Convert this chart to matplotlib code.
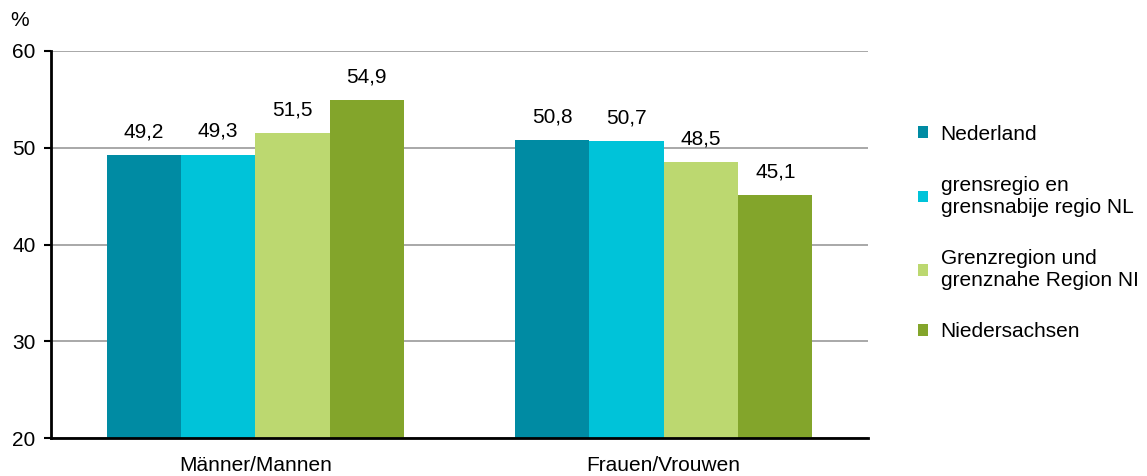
import matplotlib
matplotlib.use("Agg")
import matplotlib.pyplot as plt
import numpy as np

categories = ["Männer/Mannen", "Frauen/Vrouwen"]
series = ["Nederland", "grensregio en\ngrensnabije regio NL",
          "Grenzregion und\ngrenznahe Region NI", "Niedersachsen"]
values = [
    [49.2, 50.8],
    [49.3, 50.7],
    [51.5, 48.5],
    [54.9, 45.1],
]
colors = ["#008BA3", "#00C3D9", "#BCD870", "#83A52B"]
yticks = [20, 30, 40, 50, 60]

plt.rcParams['font.family'] = ['Liberation Sans', 'DejaVu Sans']
FS = 15
fig = plt.figure(figsize=(11.47, 4.76), dpi=100)
ax = fig.add_axes([51/1147, 1-438/476, (868-51)/1147, (438-51)/476])

x = np.arange(len(categories))
bw = 0.182
n = len(series)
for i, (s, vals, c) in enumerate(zip(series, values, colors)):
    pos = x + (i - (n-1)/2) * bw
    ax.bar(pos, vals, width=bw, color=c, label=s, zorder=3)
    for p, v in zip(pos, vals):
        ax.text(p, v + 1.4, f"{v:.1f}".replace(".", ","), ha="center", va="bottom", fontsize=FS)

ax.set_xlim(-0.5, 1.5)
ax.set_ylim(20, 60)
ax.set_yticks(yticks)
ax.set_yticklabels([str(t) for t in yticks], fontsize=FS)
ax.set_xticks(x)
ax.set_xticklabels(categories, fontsize=FS)
ax.tick_params(axis='x', length=0, pad=13)
ax.tick_params(axis='y', length=5, width=1.5, direction='out', pad=6)
ax.yaxis.grid(True, color="#999999", linewidth=1.2, zorder=0)
for sp in ["top", "right"]:
    ax.spines[sp].set_visible(False)
ax.spines["left"].set_linewidth(2)
ax.spines["bottom"].set_linewidth(2)
ax.spines["left"].set_zorder(4)
ax.spines["bottom"].set_zorder(4)

fig.text(20/1147, 1-20/476, "%", fontsize=FS, ha="center", va="center")

leg = ax.legend(loc="center left", bbox_to_anchor=(899/1147, 1-233/476), bbox_transform=fig.transFigure,
                frameon=False, fontsize=FS, handlelength=0.5, handleheight=0.5,
                handletextpad=0.6, labelspacing=1.55)

fig.savefig("out.png", dpi=100)
